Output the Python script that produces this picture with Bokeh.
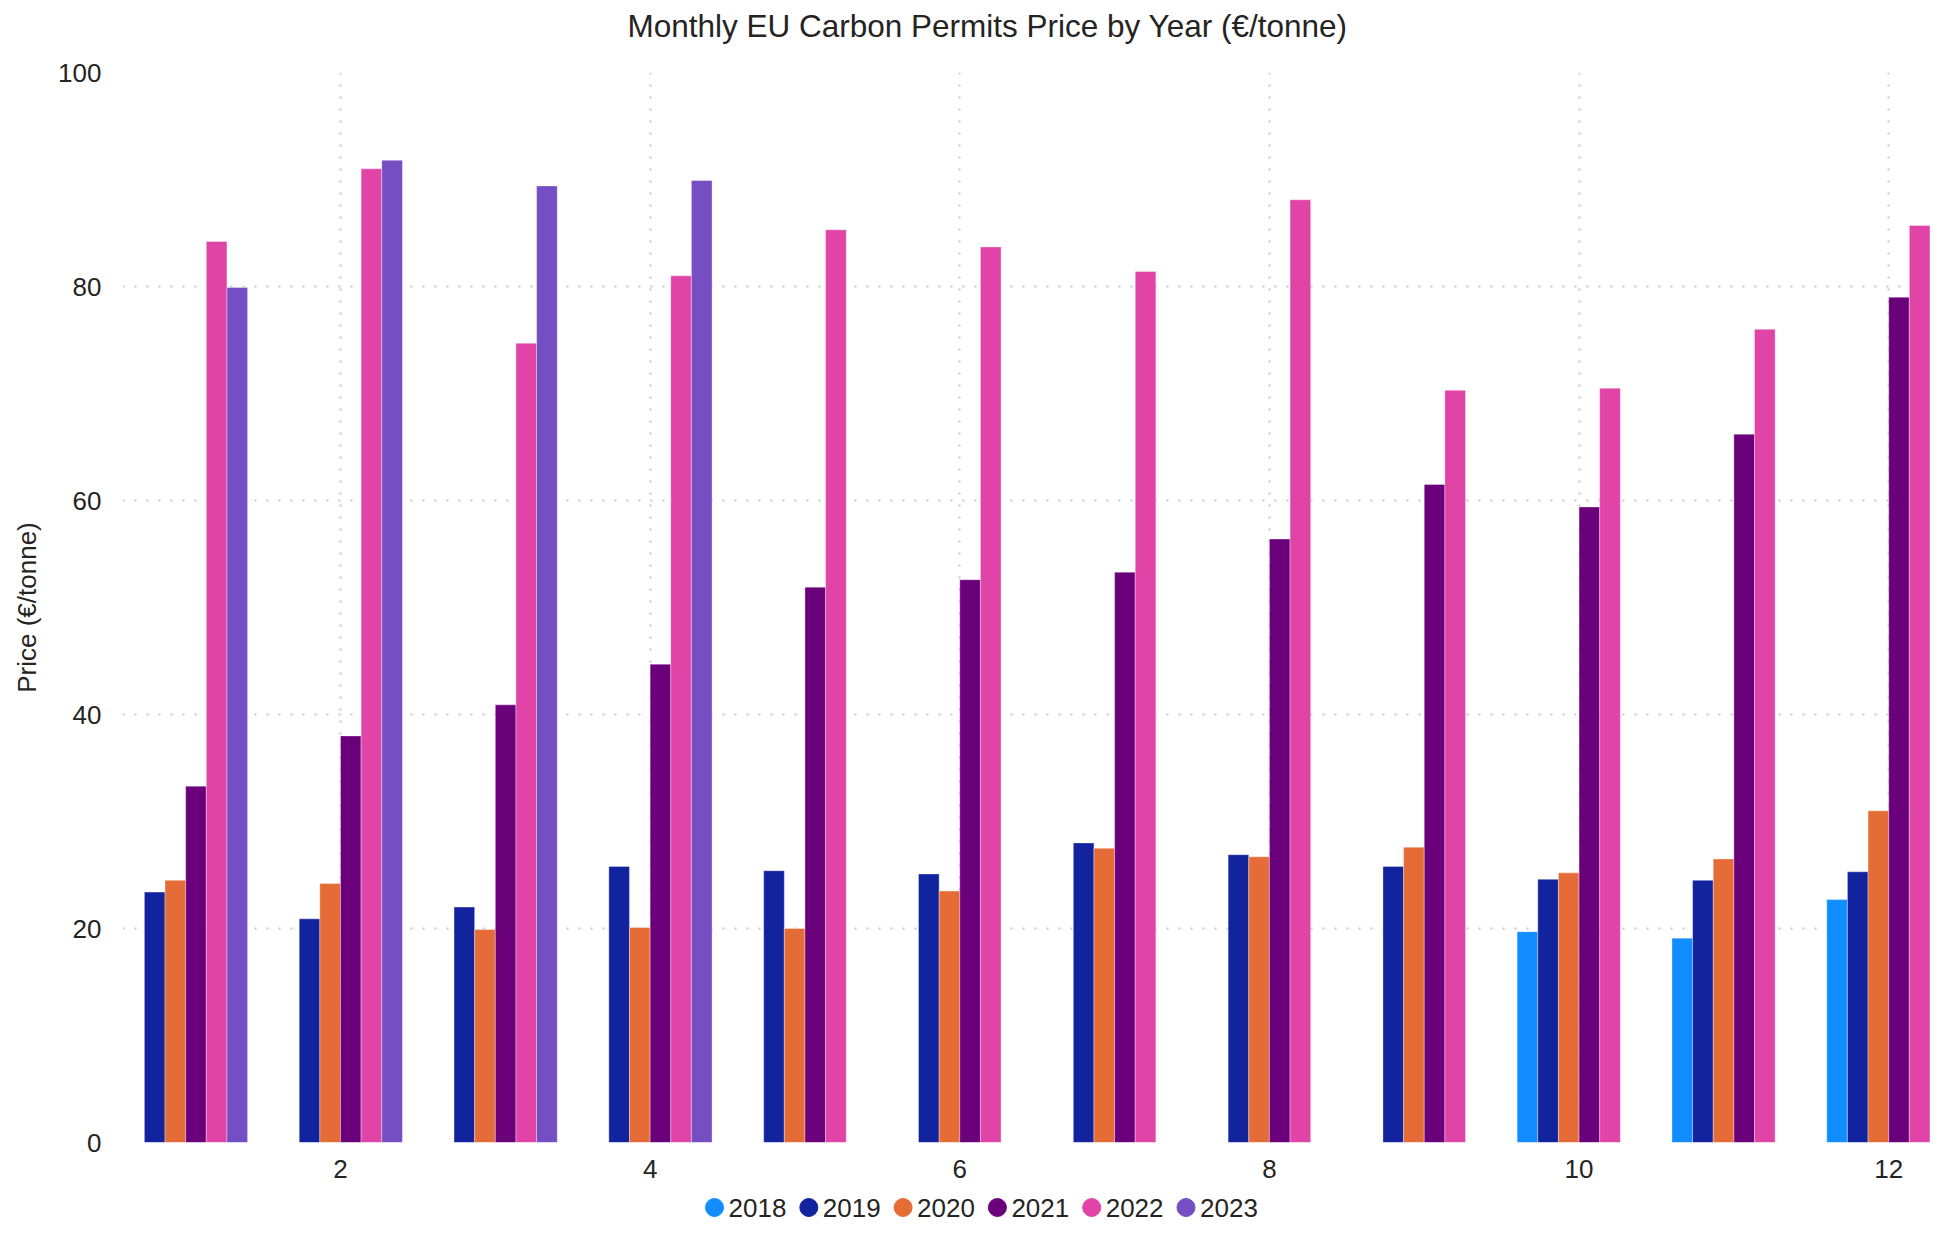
from bokeh.plotting import figure
from bokeh.layouts import column
from bokeh.models import ColumnDataSource, Range1d, FixedTicker
from bokeh.core.properties import value
from bokeh.embed import file_html
from bokeh.resources import INLINE

months = list(range(1, 13))
years = ["2018", "2019", "2020", "2021", "2022", "2023"]
colors = ["#118DFF", "#12239E", "#E66C37", "#6B007B", "#E044A7", "#744EC2"]

p2018 = [None, None, None, None, None, None, None, None, None, 19.7, 19.1, 22.7]
p2019 = [23.4, 20.9, 22.0, 25.8, 25.4, 25.1, 28.0, 26.9, 25.8, 24.6, 24.5, 25.3]
p2020 = [24.5, 24.2, 19.9, 20.1, 20.0, 23.5, 27.5, 26.7, 27.6, 25.2, 26.5, 31.0]
p2021 = [33.3, 38.0, 40.9, 44.7, 51.9, 52.6, 53.3, 56.4, 61.5, 59.4, 66.2, 79.0]
p2022 = [84.2, 91.0, 74.7, 81.0, 85.3, 83.7, 81.4, 88.1, 70.3, 70.5, 76.0, 85.7]
p2023 = [79.9, 91.8, 89.4, 89.9, None, None, None, None, None, None, None, None]
series = [p2018, p2019, p2020, p2021, p2022, p2023]

x_ticks = [2, 4, 6, 8, 10, 12]
y_ticks = [0, 20, 40, 60, 80, 100]
title_text = "Monthly EU Carbon Permits Price by Year (€/tonne)"

FONT = "Liberation Sans"
TXT = "#252423"
W = 1930
LEFT = 122


def strip(h):
    f = figure(width=W, height=h, output_backend="svg", toolbar_location=None,
               x_range=Range1d(LEFT, W), y_range=Range1d(0, h),
               min_border=0, x_axis_type=None, y_axis_type=None)
    f.outline_line_color = None
    f.xgrid.visible = False
    f.ygrid.visible = False
    return f


# title strip
TH = 52
tt = strip(TH)
tt.text(x=[987], y=[TH - 25], text=[title_text], text_font=value(FONT),
        text_font_size="31.5px", text_color=TXT, text_baseline="middle", text_align="center")

# main chart
p = figure(width=W, height=1134, output_backend="svg", toolbar_location=None,
           x_range=Range1d(0.592, 12.27), y_range=Range1d(0, 100),
           min_border_left=LEFT, min_border_right=0, min_border_top=20, min_border_bottom=44)
p.outline_line_color = None

n = len(years)
slot = 0.8 / n
for i, (yr, col, vals) in enumerate(zip(years, colors, series)):
    xs = [m + (i - (n - 1) / 2) * slot for m, v in zip(months, vals) if v is not None]
    ys = [v for v in vals if v is not None]
    src = ColumnDataSource(dict(x=xs, top=ys))
    p.vbar(x="x", top="top", bottom=0, width=slot, source=src,
           fill_color=col, line_color="white", line_alpha=0.35, line_width=1)

p.xaxis.ticker = FixedTicker(ticks=x_ticks)
p.yaxis.ticker = FixedTicker(ticks=y_ticks)
for ax in (p.xaxis, p.yaxis):
    ax.axis_line_color = None
    ax.major_tick_line_color = None
    ax.minor_tick_line_color = None
    ax.major_label_text_font = FONT
    ax.major_label_text_font_size = "26px"
    ax.major_label_text_color = TXT
p.yaxis.axis_label = "Price (€/tonne)"
p.yaxis.axis_label_text_font = FONT
p.yaxis.axis_label_text_font_size = "26px"
p.yaxis.axis_label_text_font_style = "normal"
p.yaxis.axis_label_text_color = TXT
p.yaxis.axis_label_standoff = 13
p.yaxis.major_label_standoff = 15
p.xaxis.major_label_standoff = 11

for g in (p.xgrid, p.ygrid):
    g.grid_line_color = "#c8c8c8"
    g.grid_line_dash = "2 10"
    g.grid_line_width = 2

# legend strip
LH = 1224 - TH - 1134
lg = strip(LH)
pitch = 94.3
first = 714
cx = [first + k * pitch for k in range(n)]
lsrc = ColumnDataSource(dict(x=cx, tx=[c + 14 for c in cx], y=[LH - 21] * n,
                             label=years, color=colors))
lg.scatter(x="x", y="y", source=lsrc, marker="circle", size=18,
           fill_color="color", line_color="color")
lg.text(x="tx", y="y", text="label", source=lsrc, text_font=value(FONT),
        text_font_size="26px", text_color=TXT, text_baseline="middle", text_align="left")

layout = column(tt, p, lg, spacing=0)
open("out.html", "w").write(file_html(layout, INLINE))
